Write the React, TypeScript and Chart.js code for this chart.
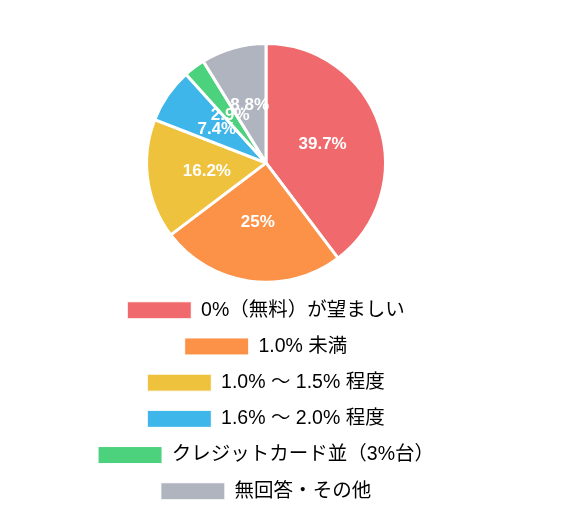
import {useEffect, useRef} from 'react';
import {Chart, registerables} from 'chart.js';

Chart.register(...registerables);

const labels = [
	'0%（無料）が望ましい',
	'1.0% 未満',
	'1.0% ～ 1.5% 程度',
	'1.6% ～ 2.0% 程度',
	'クレジットカード並（3%台）',
	'無回答・その他'
];
const values = [39.7, 25, 16.2, 7.4, 2.9, 8.8];
const colors = ['#F06A6D', '#FB9248', '#EEC23C', '#3EB6EA', '#4CD17C', '#B0B4BF'];

const fontFamily = "Arial, 'Liberation Sans', 'Noto Sans CJK JP', sans-serif";

// white percentage text in the middle of each slice
const sliceLabels = {
	id: 'sliceLabels',
	afterDatasetsDraw(chart: any) {
		const ctx = chart.ctx;
		const meta = chart.getDatasetMeta(0);
		ctx.save();
		ctx.fillStyle = '#fff';
		ctx.font = `bold 17px ${fontFamily}`;
		ctx.textAlign = 'center';
		ctx.textBaseline = 'middle';
		meta.data.forEach((arc: any, i: number) => {
			const p = arc.getCenterPoint();
			ctx.fillText(values[i] + '%', p.x, p.y);
		});
		ctx.restore();
	}
};

export default function App() {
	const canvasRef: any = useRef(null);

	useEffect(() => {
		if (!canvasRef.current) return;
		const chart = new Chart(canvasRef.current.getContext('2d'), {
			type: 'pie',
			data: {
				labels: labels,
				datasets: [
					{
						data: values,
						backgroundColor: colors,
						borderColor: '#fff',
						borderWidth: 3
					}
				]
			},
			options: {
				animation: false,
				responsive: true,
				maintainAspectRatio: false,
				layout: {
					padding: {top: 34}
				},
				plugins: {
					tooltip: {enabled: false},
					legend: {
						position: 'bottom',
						labels: {
							color: '#6a6a6a',
							boxWidth: 64,
							boxHeight: 17,
							padding: 16.7,
							font: {size: 19.5, family: fontFamily},
							generateLabels: (c: any) =>
								labels.map((text, i) => ({
									text,
									fillStyle: colors[i],
									strokeStyle: '#fff',
									lineWidth: 1,
									hidden: false,
									index: i
								}))
						}
					}
				}
			},
			plugins: [sliceLabels]
		} as any);
		return () => {
			chart.destroy();
		};
	}, []);

	return (
		<div style={{width: 380, height: 503, marginLeft: 68, position: 'relative'}}>
			<canvas ref={canvasRef} />
		</div>
	);
}
